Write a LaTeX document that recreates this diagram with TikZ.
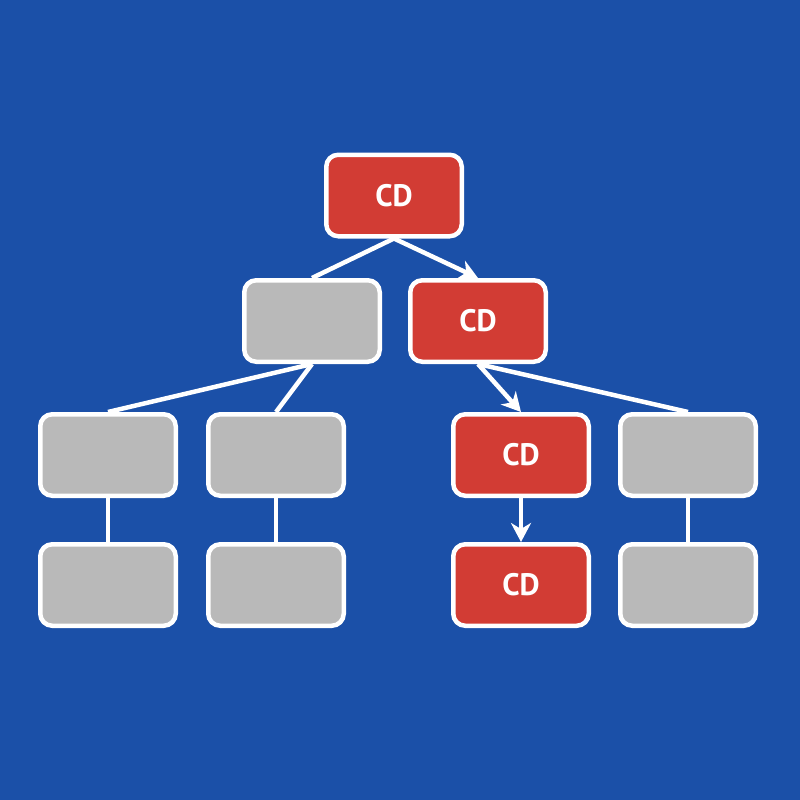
\documentclass[tikz,border=0pt]{standalone}
\usepackage{fontspec}
\setmainfont{PT Sans}
\usetikzlibrary{arrows.meta}
\definecolor{bgblue}{RGB}{27,80,168}
\definecolor{boxred}{RGB}{210,60,52}
\definecolor{boxgray}{RGB}{185,185,185}
\begin{document}
\begin{tikzpicture}[x=1pt,y=-1pt,
  box/.style={draw=white,line width=4.5pt,rounded corners=12pt,minimum width=135.5pt,minimum height=81.5pt,inner sep=0pt},
  redbox/.style={box,fill=boxred,text=white,font=\fontsize{31}{34}\selectfont\bfseries},
  graybox/.style={box,fill=boxgray},
  link/.style={draw=white,line width=4.5pt},
  arr/.style={link,-{Stealth[length=19pt,width=20pt,inset=6pt]}}]
\fill[bgblue] (0,0) rectangle (800,800);
\useasboundingbox (0,0) rectangle (800,800);
\node[redbox] (a) at (394,195.5) {CD};
\node[graybox] (b) at (312,321) {};
\node[redbox] (c) at (478,321) {CD};
\node[graybox] (d) at (108,455) {};
\node[graybox] (e) at (276,455) {};
\node[redbox] (f) at (521,455) {CD};
\node[graybox] (g) at (688,455) {};
\node[graybox] (h) at (108,585) {};
\node[graybox] (i) at (276,585) {};
\node[redbox] (j) at (521,585) {CD};
\node[graybox] (k) at (688,585) {};
\draw[link] (a.south) -- (b.north);
\draw[arr] (a.south) -- (c.north);
\draw[link] (b.south) -- (d.north);
\draw[link] (b.south) -- (e.north);
\draw[arr] (c.south) -- (f.north);
\draw[link] (c.south) -- (g.north);
\draw[link] (d.south) -- (h.north);
\draw[link] (e.south) -- (i.north);
\draw[arr] (f.south) -- (j.north);
\draw[link] (g.south) -- (k.north);
\end{tikzpicture}
\end{document}
